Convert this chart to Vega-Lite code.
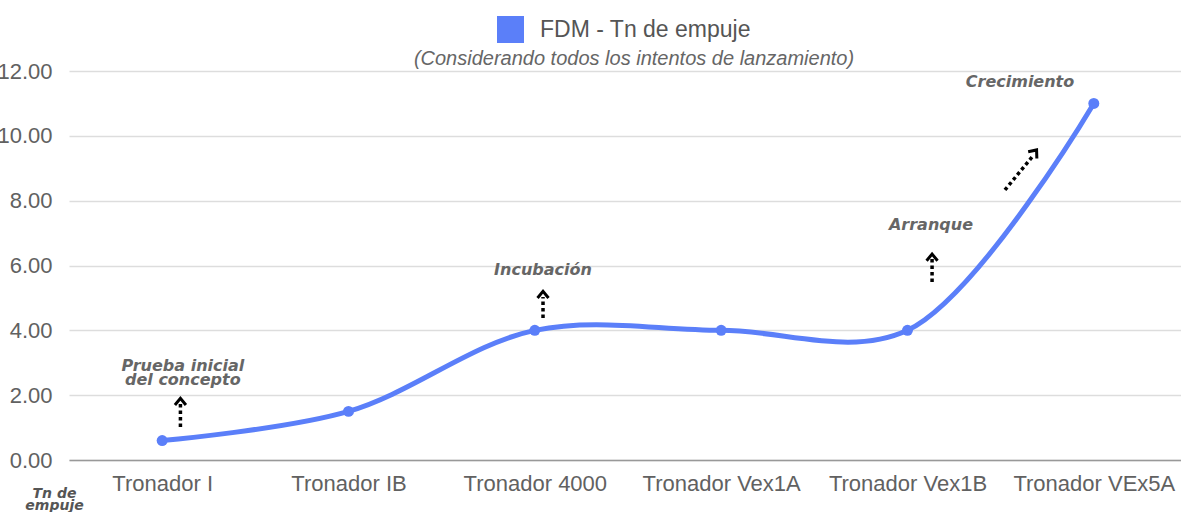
{
  "$schema": "https://vega.github.io/schema/vega-lite/v6.json",
  "autosize": "none",
  "width": 1112,
  "height": 389,
  "padding": {"left": 69, "top": 71, "right": 0, "bottom": 52},
  "background": "white",
  "config": {
    "view": {"stroke": null},
    "font": "Liberation Sans"
  },
  "title": {
    "text": "(Considerando todos los intentos de lanzamiento)",
    "fontSize": 20,
    "fontStyle": "italic",
    "fontWeight": "normal",
    "color": "#666666",
    "font": "Liberation Sans",
    "anchor": "middle",
    "dx": 9,
    "offset": -53
  },
  "datasets": {
    "empuje": [
      {"i": 0, "modelo": "Tronador I", "tn": 0.6, "serie": "FDM - Tn de empuje"},
      {"i": 1, "modelo": "Tronador IB", "tn": 1.5, "serie": "FDM - Tn de empuje"},
      {"i": 2, "modelo": "Tronador 4000", "tn": 4.0, "serie": "FDM - Tn de empuje"},
      {"i": 3, "modelo": "Tronador Vex1A", "tn": 4.0, "serie": "FDM - Tn de empuje"},
      {"i": 4, "modelo": "Tronador Vex1B", "tn": 4.0, "serie": "FDM - Tn de empuje"},
      {"i": 5, "modelo": "Tronador VEx5A", "tn": 11.0, "serie": "FDM - Tn de empuje"}
    ],
    "etiquetas": [
      {"x": 0.111, "y": 2.74, "texto": "Prueba inicial\ndel concepto"},
      {"x": 2.044, "y": 5.71, "texto": "Incubación"},
      {"x": 4.126, "y": 7.09, "texto": "Arranque"},
      {"x": 4.604, "y": 11.5, "texto": "Crecimiento"}
    ],
    "flechas": [
      {"x": 0.098, "y": 1.02, "x2": 0.098, "y2": 1.76},
      {"x": 2.044, "y": 4.38, "x2": 2.044, "y2": 5.03},
      {"x": 4.132, "y": 5.49, "x2": 4.132, "y2": 6.2},
      {"x": 4.523, "y": 8.33, "x2": 4.668, "y2": 9.34}
    ],
    "puntas": [
      {"x": 0.098, "y": 1.8},
      {"x": 2.044, "y": 5.1},
      {"x": 4.132, "y": 6.25}
    ],
    "puntas_diag": [
      {"x": 4.682, "y": 9.485}
    ]
  },
  "layer": [
    {
      "data": {"name": "empuje"},
      "mark": {
        "type": "line",
        "interpolate": "catmull-rom",
        "strokeWidth": 5,
        "point": {"filled": true, "size": 120}
      },
      "encoding": {
        "x": {
          "field": "i",
          "type": "quantitative",
          "scale": {"domain": [-0.5, 5.468], "nice": false, "zero": false},
          "axis": {
            "title": null,
            "values": [0, 1, 2, 3, 4, 5],
            "labelExpr": "['Tronador I','Tronador IB','Tronador 4000','Tronador Vex1A','Tronador Vex1B','Tronador VEx5A'][datum.value]",
            "grid": false,
            "ticks": false,
            "domain": true,
            "domainColor": "#999999",
            "domainWidth": 1.5,
            "labelFont": "Liberation Sans",
            "labelFontSize": 22,
            "labelColor": "#616161",
            "labelBaseline": "alphabetic",
            "labelPadding": 30,
            "labelFlush": false,
            "labelOverlap": false
          }
        },
        "y": {
          "field": "tn",
          "type": "quantitative",
          "scale": {"domain": [0, 12], "nice": false},
          "axis": {
            "title": ["Tn de", "empuje"],
            "titleAngle": 0,
            "titleAlign": "center",
            "titleBaseline": "alphabetic",
            "titleX": -15,
            "titleY": 426,
            "titleFont": "DejaVu Sans",
            "titleFontSize": 14,
            "titleFontWeight": "bold",
            "titleFontStyle": "italic",
            "titleColor": "#555555",
            "titleLineHeight": 12,
            "values": [0, 2, 4, 6, 8, 10, 12],
            "format": ".2f",
            "grid": true,
            "gridColor": "#dddddd",
            "gridWidth": 1.5,
            "domain": false,
            "ticks": false,
            "labelFont": "Liberation Sans",
            "labelFontSize": 22,
            "labelColor": "#616161",
            "labelPadding": 17
          }
        },
        "color": {
          "field": "serie",
          "type": "nominal",
          "scale": {"range": ["#5b7ff9"]},
          "legend": {
            "title": null,
            "orient": "none",
            "legendX": 428,
            "legendY": -55,
            "padding": 0,
            "symbolType": "square",
            "symbolSize": 729,
            "symbolFillColor": "#5b7ff9",
            "symbolStrokeWidth": 0,
            "labelFont": "Liberation Sans",
            "labelFontSize": 23,
            "labelColor": "#555555",
            "labelOffset": 16,
            "labelLimit": 500
          }
        }
      }
    },
    {
      "data": {"name": "flechas"},
      "mark": {"type": "rule", "color": "#000000", "strokeWidth": 3.5, "strokeDash": [3.5, 3]},
      "encoding": {
        "x": {"field": "x", "type": "quantitative"},
        "y": {"field": "y", "type": "quantitative"},
        "x2": {"field": "x2"},
        "y2": {"field": "y2"}
      }
    },
    {
      "data": {"name": "puntas"},
      "mark": {"type": "point", "shape": "M-1,0.6L0,-0.6L1,0.6", "filled": false, "color": "#000000", "strokeWidth": 3, "size": 121, "opacity": 1},
      "encoding": {
        "x": {"field": "x", "type": "quantitative"},
        "y": {"field": "y", "type": "quantitative"}
      }
    },
    {
      "data": {"name": "puntas_diag"},
      "mark": {"type": "point", "shape": "M-1,0.6L0,-0.6L1,0.6", "filled": false, "color": "#000000", "strokeWidth": 3, "size": 121, "opacity": 1, "angle": 38},
      "encoding": {
        "x": {"field": "x", "type": "quantitative"},
        "y": {"field": "y", "type": "quantitative"}
      }
    },
    {
      "data": {"name": "etiquetas"},
      "mark": {
        "type": "text",
        "font": "DejaVu Sans",
        "fontSize": 16,
        "fontWeight": "bold",
        "fontStyle": "italic",
        "color": "#666666",
        "align": "center",
        "baseline": "alphabetic",
        "lineBreak": "\n",
        "lineHeight": 14
      },
      "encoding": {
        "x": {"field": "x", "type": "quantitative"},
        "y": {"field": "y", "type": "quantitative"},
        "text": {"field": "texto"}
      }
    }
  ]
}
